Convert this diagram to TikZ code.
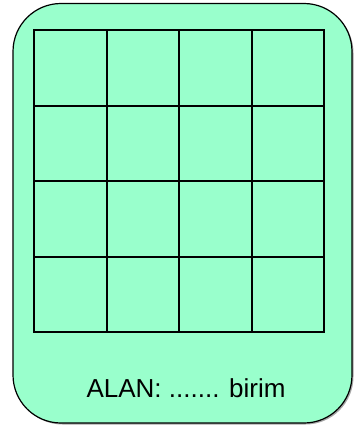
\documentclass[tikz,border=0pt]{standalone}
\usepackage{fontspec}
\setmainfont{Liberation Sans}
\definecolor{boxfill}{HTML}{99FFCC}
\begin{document}
\begin{tikzpicture}[x=1pt,y=-1pt,
  panel/.style={draw=black,line width=1.2pt,fill=boxfill,rounded corners=48pt},
  gridline/.style={draw=black,line width=1.8pt}]
\useasboundingbox (0,0) rectangle (354,428);
\fill[black!35,rounded corners=48pt] (14.5,5) rectangle (353.5,424.5);
\path[panel] (13,3.5) rectangle (352,423);
\coordinate (g0) at (34,30);
\coordinate (g1) at (324,332);
\draw[gridline] (g0) rectangle (g1);
\foreach \x in {107,179,252}{
  \draw[gridline] (\x,30) -- (\x,332);
}
\foreach \y in {106,181,257}{
  \draw[gridline] (34,\y) -- (324,\y);
}
\node[font=\fontsize{26}{30}\selectfont,anchor=base] (lbl) at (186,397) {ALAN: ....... birim};
\end{tikzpicture}
\end{document}
